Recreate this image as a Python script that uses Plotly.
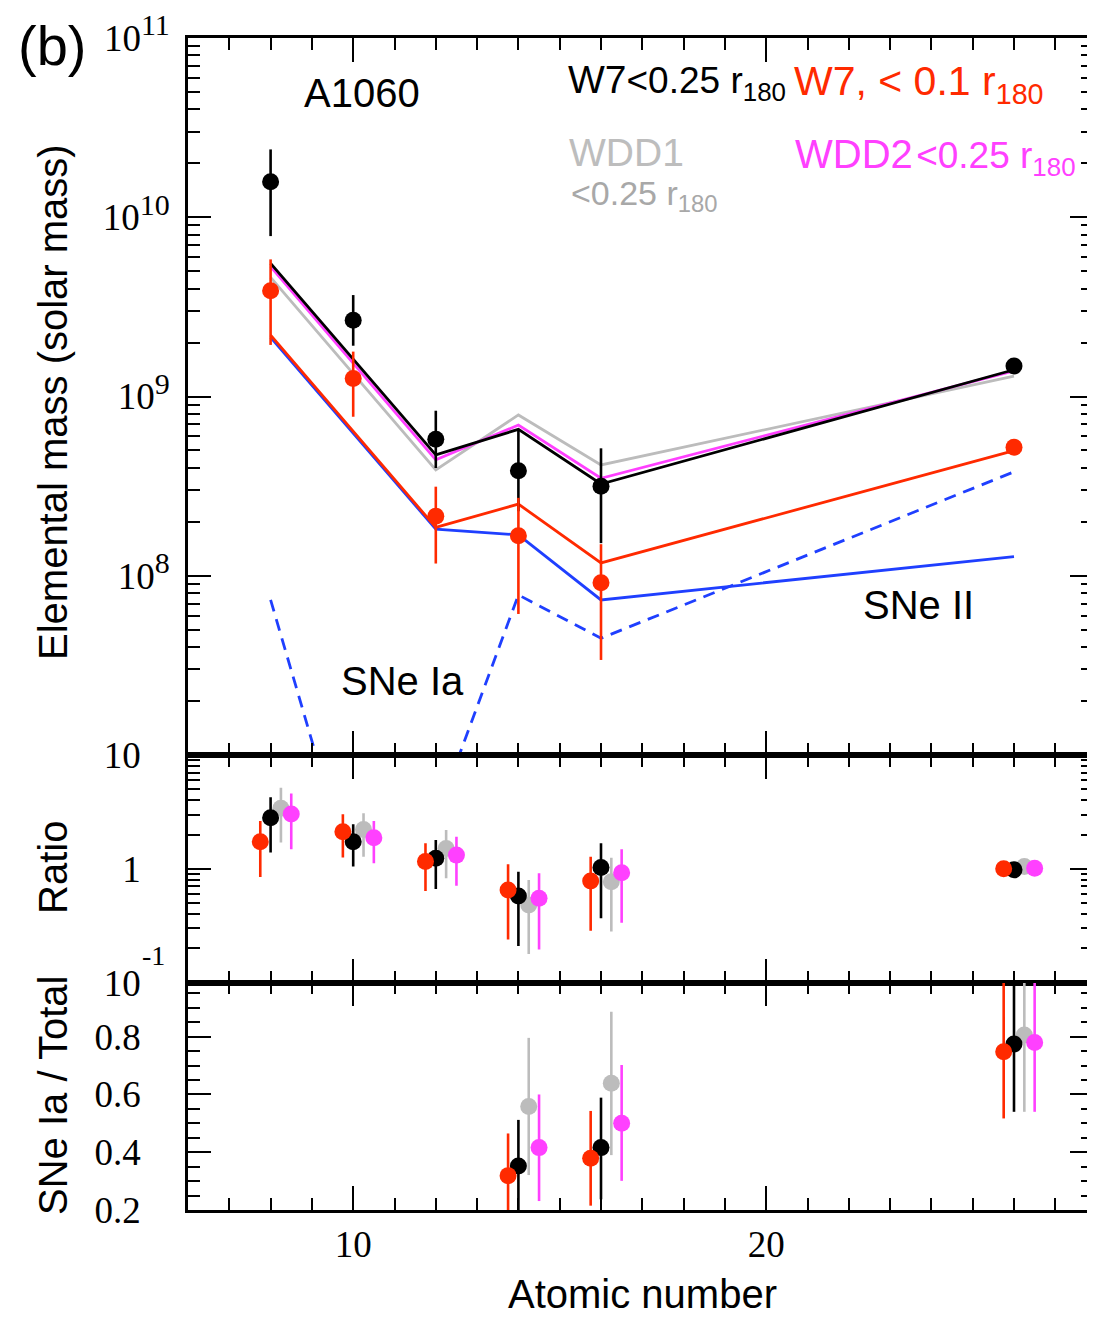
import plotly.graph_objects as go

# ---------------- data ----------------
Z = [8, 10, 12, 14, 16, 26]

# observed masses (solar mass)
obs_w7_025 = [1.58e10, 2.66e9, 5.77e8, 3.85e8, 3.16e8, 1.48e9]
obs_w7_025_hi = [2.39e10, 3.68e9, 8.33e8, 6.50e8, 5.14e8, 1.59e9]
obs_w7_025_lo = [7.85e9, 1.92e9, 3.99e8, 2.29e8, 1.52e8, 1.38e9]

obs_w7_01 = [3.89e9, 1.26e9, 2.15e8, 1.67e8, 9.14e7, 5.21e8]
obs_w7_01_hi = [5.82e9, 1.78e9, 3.14e8, 2.72e8, 1.50e8, 5.45e8]
obs_w7_01_lo = [1.94e9, 7.71e8, 1.17e8, 6.12e7, 3.39e7, 4.98e8]

# model fits
fit_w7_025 = [5.53e9, 1.61e9, 4.72e8, 6.56e8, 3.25e8, 1.41e9]
fit_wdd2_025 = [5.30e9, 1.53e9, 4.43e8, 6.93e8, 3.50e8, 1.39e9]
fit_wdd1_025 = [4.62e9, 1.34e9, 3.89e8, 7.89e8, 4.15e8, 1.30e9]
fit_w7_01 = [2.20e9, 6.43e8, 1.86e8, 2.51e8, 1.18e8, 4.99e8]
fit_sn2 = [2.14e9, 6.24e8, 1.82e8, 1.69e8, 7.33e7, 1.28e8]
fit_sn1a = [7.33e7, 1.96e6, 4.42e6, 7.82e7, 4.48e7, 3.80e8]

# ratio panel (data / model)
ratio_red = [1.73, 2.12, 1.16, 0.652, 0.782, 1.00]
ratio_red_hi = [2.63, 3.01, 1.68, 1.10, 1.28, 1.03]
ratio_red_lo = [0.849, 1.26, 0.638, 0.240, 0.286, 0.97]
ratio_black = [2.81, 1.73, 1.24, 0.577, 1.03, 0.98]
ratio_black_hi = [4.25, 2.46, 1.79, 0.944, 1.68, 1.04]
ratio_black_lo = [1.39, 1.05, 0.665, 0.210, 0.368, 0.92]
ratio_gray = [3.40, 2.22, 1.51, 0.481, 0.771, 1.05]
ratio_gray_hi = [5.16, 3.08, 2.19, 0.798, 1.25, 1.07]
ratio_gray_lo = [1.70, 1.28, 0.826, 0.179, 0.281, 1.03]
ratio_mag = [3.03, 1.88, 1.32, 0.551, 0.925, 1.01]
ratio_mag_hi = [4.60, 2.63, 1.91, 0.914, 1.49, 1.03]
ratio_mag_lo = [1.49, 1.12, 0.711, 0.196, 0.337, 0.99]

# SNe Ia / Total panel
Z_frac = [14, 16, 26]
frac_red = [0.319, 0.379, 0.748]
frac_red_hi = [0.465, 0.543, 0.987]
frac_red_lo = [0.200, 0.215, 0.517]
frac_black = [0.352, 0.416, 0.775]
frac_black_hi = [0.512, 0.589, 0.987]
frac_black_lo = [0.200, 0.237, 0.540]
frac_gray = [0.558, 0.639, 0.806]
frac_gray_hi = [0.796, 0.886, 0.987]
frac_gray_lo = [0.321, 0.390, 0.540]
frac_mag = [0.416, 0.500, 0.780]
frac_mag_hi = [0.600, 0.702, 0.987]
frac_mag_lo = [0.231, 0.301, 0.540]

mass_tickvals = [1e8, 1e9, 1e10, 1e11]
mass_exponents = ["8", "9", "10", "11"]

# ---------------- style ----------------
RED = "#ff2a00"
BLACK = "#000000"
GRAY = "#bcbcbc"
MAG = "#ff40ff"
BLUE = "#1f3fff"
SANS = "Liberation Sans, Arial, sans-serif"
SERIF = "Liberation Serif, Times New Roman, serif"

OFF = 8  # default page body margin
W, H = 1095 - OFF, 1317 - OFF
L, R, T = 188 - OFF, 2, 38 - OFF
BOT = 1210 - OFF
B = H - BOT
PW, PH = W - L - R, BOT - T


def px(x):
    return (x - OFF - L) / PW


def py(y):
    return (BOT - (y - OFF)) / PH


d_top0 = py(755)
d_mid0 = py(982.7)

fig = go.Figure()


def err(vals, hi, lo, color):
    return dict(type="data", symmetric=False,
                array=[h - v for v, h in zip(vals, hi)],
                arrayminus=[v - l for v, l in zip(vals, lo)],
                color=color, thickness=2.6, width=0)


def shift(xs, d):
    return [x + d for x in xs]


# top panel model lines
for vals, col, dash in [(fit_sn1a, BLUE, "12px,8px"), (fit_sn2, BLUE, "solid"),
                        (fit_w7_01, RED, "solid"), (fit_wdd1_025, GRAY, "solid"),
                        (fit_wdd2_025, MAG, "solid"), (fit_w7_025, BLACK, "solid")]:
    fig.add_trace(go.Scatter(x=Z, y=vals, mode="lines", xaxis="x", yaxis="y",
                             line=dict(color=col, width=2.8, dash=dash),
                             showlegend=False, hoverinfo="skip"))

# top panel observed points
fig.add_trace(go.Scatter(x=Z, y=obs_w7_025, mode="markers", xaxis="x", yaxis="y",
                         marker=dict(color=BLACK, size=17),
                         error_y=err(obs_w7_025, obs_w7_025_hi, obs_w7_025_lo, BLACK),
                         showlegend=False))
fig.add_trace(go.Scatter(x=Z, y=obs_w7_01, mode="markers", xaxis="x", yaxis="y",
                         marker=dict(color=RED, size=17),
                         error_y=err(obs_w7_01, obs_w7_01_hi, obs_w7_01_lo, RED),
                         showlegend=False))

# ratio panel
for vals, hi, lo, col, d in [(ratio_gray, ratio_gray_hi, ratio_gray_lo, GRAY, 0.25),
                             (ratio_black, ratio_black_hi, ratio_black_lo, BLACK, 0.0),
                             (ratio_red, ratio_red_hi, ratio_red_lo, RED, -0.25),
                             (ratio_mag, ratio_mag_hi, ratio_mag_lo, MAG, 0.5)]:
    fig.add_trace(go.Scatter(x=shift(Z, d), y=vals, mode="markers", xaxis="x2", yaxis="y2",
                             marker=dict(color=col, size=17),
                             error_y=err(vals, hi, lo, col), showlegend=False))

# SNe Ia / Total panel
for vals, hi, lo, col, d in [(frac_gray, frac_gray_hi, frac_gray_lo, GRAY, 0.25),
                             (frac_black, frac_black_hi, frac_black_lo, BLACK, 0.0),
                             (frac_red, frac_red_hi, frac_red_lo, RED, -0.25),
                             (frac_mag, frac_mag_hi, frac_mag_lo, MAG, 0.5)]:
    fig.add_trace(go.Scatter(x=shift(Z_frac, d), y=vals, mode="markers", xaxis="x3", yaxis="y3",
                             marker=dict(color=col, size=17),
                             error_y=err(vals, hi, lo, col), showlegend=False))

x_range = [6, 6 + PW / 41.3]

base_axis = dict(showline=True, linecolor="black", linewidth=2.5, mirror="allticks",
                 ticks="inside", tickwidth=2, tickcolor="black", showgrid=False,
                 zeroline=False, tickfont=dict(family=SERIF, size=37, color="black"))

xminor = dict(dtick=1, tick0=0, ticks="inside", ticklen=12, tickwidth=2, tickcolor="black",
              showgrid=False)


def xaxis(anchor, labels):
    d = dict(base_axis)
    d.update(domain=[0, 1], anchor=anchor, range=x_range, tick0=0, dtick=10, ticklen=24,
             minor=xminor, showticklabels=labels)
    return d


def log_minor(lo_exp, hi_exp):
    vals = []
    for e in range(lo_exp, hi_exp):
        for m in range(2, 10):
            vals.append(m * 10.0 ** e)
    return vals


y1 = dict(base_axis)
y1.update(domain=[d_top0, 1], anchor="x", type="log", range=[7, 11],
          tickvals=mass_tickvals,
          ticktext=["10<sup><span style='font-size:30px'>%s</span></sup>" % e for e in mass_exponents],
          ticklen=23, ticklabelstandoff=8,
          minor=dict(tickvals=log_minor(7, 11), ticks="inside", ticklen=12, tickwidth=2,
                     tickcolor="black", showgrid=False))

y2 = dict(base_axis)
y2.update(domain=[d_mid0, d_top0], anchor="x2", type="log", range=[-1, 1],
          tickvals=[0.1, 1, 10], ticktext=["10", "1", "10"],
          ticklen=23, ticklabelstandoff=37,
          minor=dict(tickvals=log_minor(-1, 1), ticks="inside", ticklen=12, tickwidth=2,
                     tickcolor="black", showgrid=False))

y3 = dict(base_axis)
y3.update(domain=[0, d_mid0], anchor="x3", range=[0.2, 0.987],
          tickvals=[0.2, 0.4, 0.6, 0.8], ticktext=["0.2", "0.4", "0.6", "0.8"],
          ticklen=23, ticklabelstandoff=37,
          minor=dict(dtick=0.05, tick0=0, ticks="inside", ticklen=12, tickwidth=2,
                     tickcolor="black", showgrid=False))

x3 = xaxis("y3", True)
x3.update(ticklabelstandoff=0)

fig.update_layout(
    width=W, height=H, margin=dict(l=L, r=R, t=T, b=B, autoexpand=False),
    paper_bgcolor="white", plot_bgcolor="white", showlegend=False,
    xaxis=xaxis("y", False), xaxis2=xaxis("y2", False), xaxis3=x3,
    yaxis=y1, yaxis2=y2, yaxis3=y3,
)


def ann(text, x, y, size, color="black", family=SANS, xanchor="center", yanchor="middle", angle=0):
    fig.add_annotation(text=text, x=px(x), y=py(y), xref="paper", yref="paper",
                       showarrow=False, xanchor=xanchor, yanchor=yanchor, textangle=angle,
                       font=dict(family=family, size=size, color=color))


ann("(b)", 52, 45, 56)
ann("A1060", 362, 93, 40)
ann("W7<span style='font-size:37px'>&lt;0.25 r<sub>180</sub></span>", 566, 82, 39, xanchor="left")
ann("W7, &lt; 0.1 r<sub>180</sub>", 792, 84, 41, color=RED, xanchor="left")
ann("WDD1", 567, 152, 39, color="#bdbdbd", xanchor="left")
ann("&lt;0.25 r<sub>180</sub>", 569, 195, 34, color="#a8a8a8", xanchor="left")
ann("WDD2<span style='font-size:12px'> </span><span style='font-size:37px'>&lt;0.25 r<sub>180</sub></span>",
    793, 156, 40, color=MAG, xanchor="left")
ann("SNe Ia", 402, 681, 40)
ann("SNe II", 918, 605, 40)
ann("Elemental mass (solar mass)", 53, 402, 40, angle=-90)
ann("Ratio", 53, 868, 40, angle=-90)
ann("SNe Ia / Total", 53, 1096, 40, angle=-90)
ann("Atomic number", 642, 1294, 40)
ann("-1", 153, 955, 28, family=SERIF)

fig.write_html("out.html")
